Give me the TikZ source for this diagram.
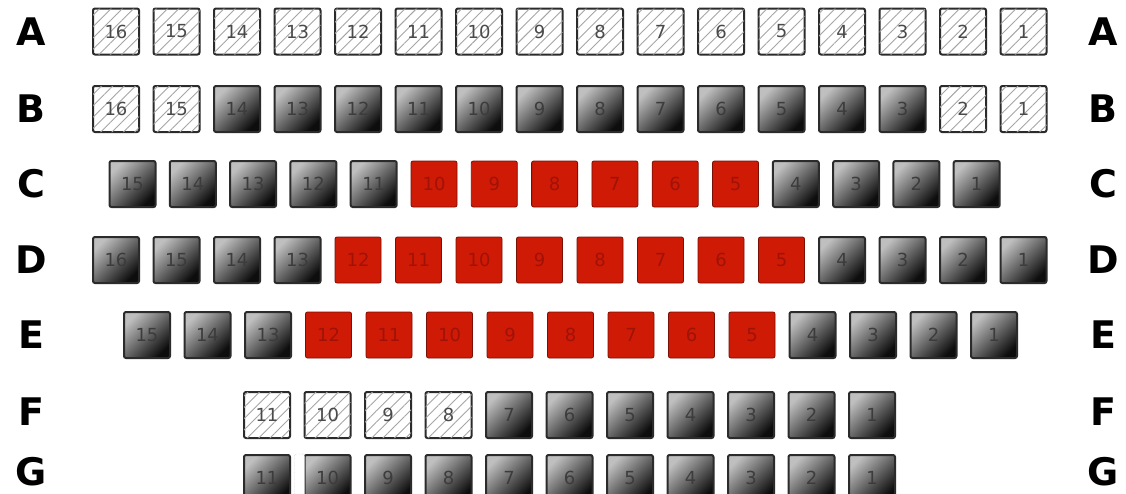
\documentclass[tikz,border=0pt]{standalone}
\usepackage{fontspec}
\setmainfont{DejaVu Sans}
\newfontfamily\rowfont{DejaVu Sans}
\usepackage{xcolor}
\usetikzlibrary{positioning, patterns.meta}
\definecolor{cText}     {HTML}{1A1A1A}
\definecolor{cEdge}     {HTML}{2B2B2B}
\definecolor{cHatch}    {HTML}{A5A5A5}
\definecolor{cNum}      {HTML}{4A4A4A}
\definecolor{cSold}     {HTML}{CF1A05}
\definecolor{cSoldEdge} {HTML}{7A1005}
\definecolor{cSoldNum}  {HTML}{A01208}

\tikzset{
  seatbase/.style={minimum size=46pt, inner sep=0pt, rounded corners=2pt,
                   font=\fontsize{18}{18}\selectfont, line width=2pt},
  seatfree/.style={seatbase, draw=cEdge, text=cNum, fill=white,
                   postaction={pattern={Lines[angle=45, distance=8pt, line width=0.9pt]},
                               pattern color=cHatch}},
  seattaken/.style={seatbase, draw=cEdge, text=cText!85,
                    top color=black!25, middle color=black!47, bottom color=black!95,
                    shading angle=45},
  seatsold/.style={seatbase, draw=cSoldEdge, line width=0.8pt, fill=cSold, text=cSoldNum},
  rowlabel/.style={font=\rowfont\bfseries\fontsize{38}{38}\selectfont, text=black}
}

\begin{document}
\begin{tikzpicture}[x=1pt, y=1pt]
  \fill[white] (0,0) rectangle (1126,-493);
  \useasboundingbox (0,0) rectangle (1126,-493);
  % row A, all free
  \foreach \n in {1,...,16}
    \node[seatfree] (A\n) at ({116+(16-\n)*60.5}, -31.5) {\n};
  % row B
  \foreach \n in {16,15,2,1}
    \node[seatfree] (B\n) at ({116+(16-\n)*60.5}, -109) {\n};
  \foreach \n in {3,...,14}
    \node[seattaken] (B\n) at ({116+(16-\n)*60.5}, -109) {\n};
  % row C
  \foreach \n in {1,...,4,11,12,...,15}
    \node[seattaken] (C\n) at ({132.5+(15-\n)*60.3}, -184) {\n};
  \foreach \n in {5,...,10}
    \node[seatsold] (C\n) at ({132.5+(15-\n)*60.3}, -184) {\n};
  % row D
  \foreach \n in {1,...,4,13,14,15,16}
    \node[seattaken] (D\n) at ({116+(16-\n)*60.5}, -260) {\n};
  \foreach \n in {5,...,12}
    \node[seatsold] (D\n) at ({116+(16-\n)*60.5}, -260) {\n};
  % row E
  \foreach \n in {1,...,4,13,14,15}
    \node[seattaken] (E\n) at ({147+(15-\n)*60.5}, -335) {\n};
  \foreach \n in {5,...,12}
    \node[seatsold] (E\n) at ({147+(15-\n)*60.5}, -335) {\n};
  % row F
  \foreach \n in {8,...,11}
    \node[seatfree] (F\n) at ({146+(13-\n)*60.5}, -415) {\n};
  \foreach \n in {1,...,7}
    \node[seattaken] (F\n) at ({146+(13-\n)*60.5}, -415) {\n};
  % row G
  \foreach \n in {1,...,11}
    \node[seattaken] (G\n) at ({146+(13-\n)*60.5}, -478) {\n};
  \node[draw=gray!60, densely dotted, fill=white, minimum width=10pt, minimum height=46pt,
        inner sep=0pt, rounded corners=2pt] (gapG) at (299.5, -477) {};
  % row letters, both sides
  \foreach \r/\y in {A/-31.5, B/-109, C/-184, D/-260, E/-335, F/-412, G/-472}{
    \node[rowlabel] (lab\r l) at (31, \y) {\r};
    \node[rowlabel] (lab\r r) at (1103, \y) {\r};
  }
\end{tikzpicture}
\end{document}
